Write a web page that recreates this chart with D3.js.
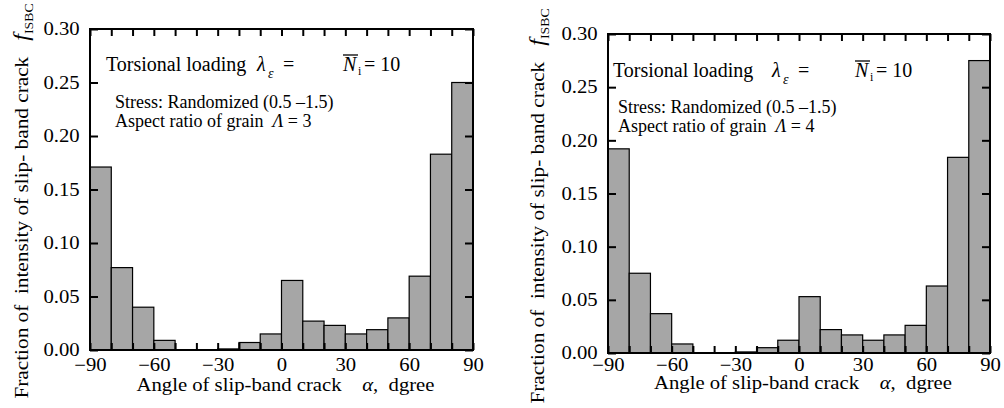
<!DOCTYPE html>
<html>
<head>
<meta charset="utf-8">
<script src="https://cdn.jsdelivr.net/npm/d3@7"></script>
<style>
  body { margin: 0; background: #fff; }
  svg { display: block; font-family: "Liberation Serif", "Times New Roman", serif; }
  svg text { font-family: "Liberation Serif", "Times New Roman", serif; }
</style>
</head>
<body>
<svg id="chart" width="1004" height="408"></svg>
<script>
// bin start angles (deg), each bin is 10 deg wide
const binStarts = [-90, -80, -70, -60, -50, -40, -30, -20, -10, 0, 10, 20, 30, 40, 50, 60, 70, 80];
// fraction f_ISBC, aspect ratio 3 (left) and 4 (right)
const ratio3Values = [0.171, 0.077, 0.040, 0.009, 0, 0, 0.001, 0.007, 0.015, 0.065, 0.027, 0.023, 0.015, 0.019, 0.030, 0.069, 0.183, 0.250];
const ratio4Values = [0.192, 0.075, 0.037, 0.0085, 0, 0, 0.001, 0.005, 0.012, 0.053, 0.022, 0.017, 0.012, 0.017, 0.026, 0.063, 0.184, 0.275];
const xTickLabels = [-90, -60, -30, 0, 30, 60, 90];
const xMinorTicks = [-90, -80, -70, -60, -50, -40, -30, -20, -10, 0, 10, 20, 30, 40, 50, 60, 70, 80, 90];
const yTicks = [0, 0.05, 0.10, 0.15, 0.20, 0.25, 0.30];

const SX = 1.15; // glyphs in the original are a bit wide
const svg = d3.select("#chart");
const fmtMinus = v => (v < 0 ? "\u2212" + Math.abs(v) : String(v));

function drawPanel(p) {
  const x = d3.scaleLinear().domain([-90, 90]).range([p.x0, p.x1]);
  const y = d3.scaleLinear().domain([0, 0.3]).range([p.y1, p.y0]);
  const g = svg.append("g");

  // bars
  g.selectAll("rect.bar").data(binStarts.map((b, i) => ({ b, v: p.values[i] })))
    .enter().append("rect")
    .attr("class", "bar")
    .attr("x", d => x(d.b))
    .attr("width", d => x(d.b + 10) - x(d.b))
    .attr("y", d => y(d.v))
    .attr("height", d => y(0) - y(d.v))
    .attr("fill", "#a6a6a6")
    .attr("stroke", "#000")
    .attr("stroke-width", 1.2);

  const tl = 7;
  // bottom axis
  g.append("g").attr("transform", `translate(0,${p.y1})`)
    .call(d3.axisBottom(x).tickValues(xMinorTicks).tickSizeInner(-tl).tickSizeOuter(0).tickFormat(""));
  g.append("g").attr("class", "lab").attr("transform", `translate(0,${p.y1})`)
    .call(d3.axisBottom(x).tickValues(xTickLabels).tickSize(0).tickPadding(p.xPad).tickFormat(fmtMinus));
  // top axis
  g.append("g").attr("transform", `translate(0,${p.y0})`)
    .call(d3.axisTop(x).tickValues(xMinorTicks).tickSizeInner(-tl).tickSizeOuter(0).tickFormat(""));
  // left axis
  g.append("g").attr("class", "lab").attr("transform", `translate(${p.x0},0)`)
    .call(d3.axisLeft(y).tickValues(yTicks).tickSizeInner(-tl - 1).tickSizeOuter(0).tickPadding(9).tickFormat(d3.format(".2f")));
  // right axis
  g.append("g").attr("transform", `translate(${p.x1},0)`)
    .call(d3.axisRight(y).tickValues(yTicks).tickSizeInner(-tl - 1).tickSizeOuter(0).tickFormat(""));

  g.selectAll(".domain").remove();
  g.selectAll(".tick line").attr("stroke", "#000").attr("stroke-width", 2);
  g.selectAll("g[font-family]").attr("font-family", null);
  g.selectAll(".lab .tick text")
    .attr("font-size", 18).attr("fill", "#000")
    .attr("transform", `scale(${SX},1)`);

  // frame
  g.append("rect").attr("x", p.x0).attr("y", p.y0)
    .attr("width", p.x1 - p.x0).attr("height", p.y1 - p.y0)
    .attr("fill", "none").attr("stroke", "#000").attr("stroke-width", 2);

  // x label
  const xl = g.append("text")
    .attr("transform", `translate(${(p.x0 + p.x1) / 2 + 4},${p.xLabelY}) scale(${SX},1)`)
    .attr("text-anchor", "middle").attr("font-size", 18);
  xl.append("tspan").text("Angle of slip-band crack\u2003");
  xl.append("tspan").attr("font-style", "italic").text("\u03b1");
  xl.append("tspan").text(",\u00a0 dgree");

  // y label
  const yl = g.append("text")
    .attr("transform", `translate(${p.yLabelX},${p.yLabelY}) rotate(-90) scale(${SX},1)`)
    .attr("text-anchor", "middle").attr("font-size", 18.5);
  yl.append("tspan").text("Fraction of\u00a0 intensity of slip- band crack\u00a0\u00a0 ");
  yl.append("tspan").attr("font-style", "italic").attr("font-size", 21).text("f");
  yl.append("tspan").attr("font-size", 12).attr("dy", 5).text("ISBC");

  // annotation
  const a = p.ann;
  g.append("text").attr("x", a.x).attr("y", a.y).attr("font-size", 20).text("Torsional loading");
  g.append("text").attr("x", a.lamX).attr("y", a.y).attr("font-size", 20).attr("font-style", "italic").text("\u03bb");
  g.append("text").attr("x", a.lamX + 11).attr("y", a.y + 7).attr("font-size", 14).attr("font-style", "italic").text("\u03b5");
  g.append("text").attr("x", a.lamX + 26).attr("y", a.y).attr("font-size", 20).text("=");
  g.append("text").attr("x", a.nX).attr("y", a.y).attr("font-size", 20).attr("font-style", "italic").text("N");
  g.append("line").attr("x1", a.nX).attr("x2", a.nX + 15).attr("y1", a.y - 16).attr("y2", a.y - 16)
    .attr("stroke", "#000").attr("stroke-width", 1.3);
  g.append("text").attr("x", a.nX + 15).attr("y", a.y + 4).attr("font-size", 12).text("i");
  g.append("text").attr("x", a.nX + 21).attr("y", a.y).attr("font-size", 20).text("= 10");

  g.append("text").attr("x", a.sX).attr("y", a.sY).attr("font-size", 18).text("Stress: Randomized (0.5 \u20131.5)");
  const asp = g.append("text").attr("x", a.sX).attr("y", a.sY + 19).attr("font-size", 18);
  asp.append("tspan").text("Aspect ratio of grain\u00a0 ");
  asp.append("tspan").attr("font-style", "italic").text("\u039b");
  asp.append("tspan").text(` = ${p.ratio}`);
}

drawPanel({
  x0: 90, x1: 473, y0: 29, y1: 350, values: ratio3Values, ratio: 3, xPad: 8,
  xLabelY: 391, yLabelX: 28, yLabelY: 201,
  ann: { x: 106, y: 71, lamX: 257, nX: 343, sX: 115, sY: 108 }
});
drawPanel({
  x0: 608, x1: 990, y0: 34, y1: 353, values: ratio4Values, ratio: 4, xPad: 5,
  xLabelY: 389, yLabelX: 544, yLabelY: 206,
  ann: { x: 613, y: 77, lamX: 772, nX: 855, sX: 618, sY: 113 }
});
</script>
</body>
</html>
